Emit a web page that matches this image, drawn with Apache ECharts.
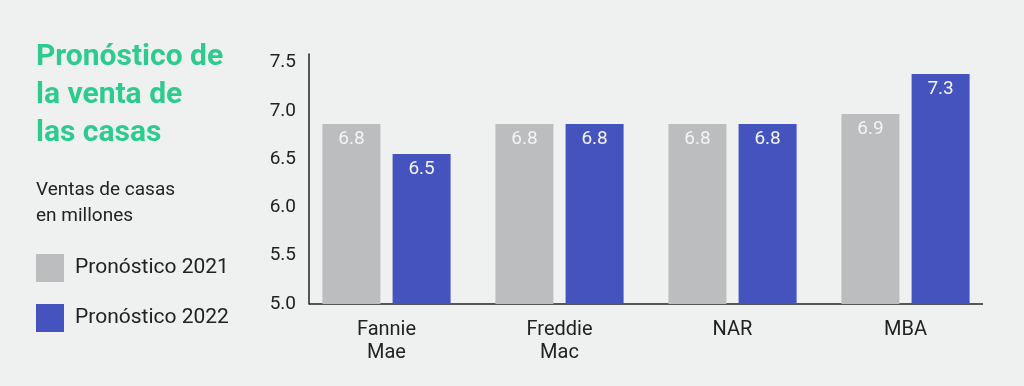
<!DOCTYPE html>
<html>
<head>
<meta charset="utf-8">
<script src="https://cdn.jsdelivr.net/npm/echarts@6/dist/echarts.min.js"></script>
<style>
html,body{margin:0;padding:0;background:#eff1f0;}
#c{width:1024px;height:386px;}
</style>
</head>
<body>
<div id="c"></div>
<script>
const categories = ['Fannie\nMae', 'Freddie\nMac', 'NAR', 'MBA'];
const forecast2021 = [6.8, 6.8, 6.8, 6.9];
const forecast2022 = [6.5, 6.8, 6.8, 7.3];
const seriesNames = ['Pronóstico 2021', 'Pronóstico 2022'];
const yTicks = [5.0, 5.5, 6.0, 6.5, 7.0, 7.5];

const FONT = 'Roboto';
const chart = echarts.init(document.getElementById('c'));
chart.setOption({
  backgroundColor: '#eff1f0',
  animation: false,
  textStyle: { fontFamily: FONT },
  title: [
    {
      text: 'Pronóstico de\nla venta de\nlas casas',
      left: 31, top: 33,
      textStyle: { color: '#2ecb8e', fontSize: 30, fontWeight: 'bold', lineHeight: 38, fontFamily: FONT }
    },
    {
      text: 'Ventas de casas\nen millones',
      left: 31, top: 172,
      textStyle: { color: '#222', fontSize: 19, fontWeight: 'normal', lineHeight: 26, fontFamily: FONT }
    }
  ],
  legend: {
    orient: 'vertical',
    left: 31, top: 249,
    itemWidth: 28, itemHeight: 28, itemGap: 22,
    icon: 'rect',
    textStyle: { color: '#222', fontSize: 21, padding: [0, 0, 0, 6], fontFamily: FONT },
    data: seriesNames
  },
  grid: { left: 300, width: 692, top: 54, height: 250 },
  graphic: [{
    type: 'line',
    shape: { x1: 309, y1: 304, x2: 983, y2: 304 },
    style: { stroke: '#222', lineWidth: 1.5 }
  }],
  xAxis: {
    type: 'category',
    data: categories,
    axisLine: { show: false },
    axisTick: { show: false },
    axisLabel: { color: '#222', fontSize: 20, lineHeight: 23, margin: 14, fontFamily: FONT }
  },
  yAxis: [
    {
      type: 'value', min: 5, max: 7.5, interval: 0.5,
      offset: -9,
      axisLine: { show: true, lineStyle: { color: '#222', width: 1.5 } },
      axisTick: { show: false },
      splitLine: { show: false },
      axisLabel: { show: false }
    },
    {
      type: 'value', position: 'left', min: 5, max: 7.59, interval: 0.5,
      axisLine: { show: false },
      axisTick: { show: false },
      splitLine: { show: false },
      axisLabel: {
        color: '#222', fontSize: 19, margin: 4, fontFamily: FONT,
        formatter: v => yTicks.some(t => Math.abs(t - v) < 1e-6) ? v.toFixed(1) : ''
      }
    }
  ],
  series: [
    {
      name: seriesNames[0], type: 'bar', data: forecast2021,
      barWidth: 58, barGap: '21%',
      itemStyle: { color: '#bcbdbf' },
      label: { show: true, position: 'insideTop', distance: 6, color: '#f4f4f4', fontSize: 19, fontFamily: FONT, formatter: p => p.value.toFixed(1) }
    },
    {
      name: seriesNames[1], type: 'bar', data: forecast2022,
      barWidth: 58,
      itemStyle: { color: '#4453bd' },
      label: { show: true, position: 'insideTop', distance: 6, color: '#f4f4f4', fontSize: 19, fontFamily: FONT, formatter: p => p.value.toFixed(1) }
    }
  ]
});
</script>
</body>
</html>
